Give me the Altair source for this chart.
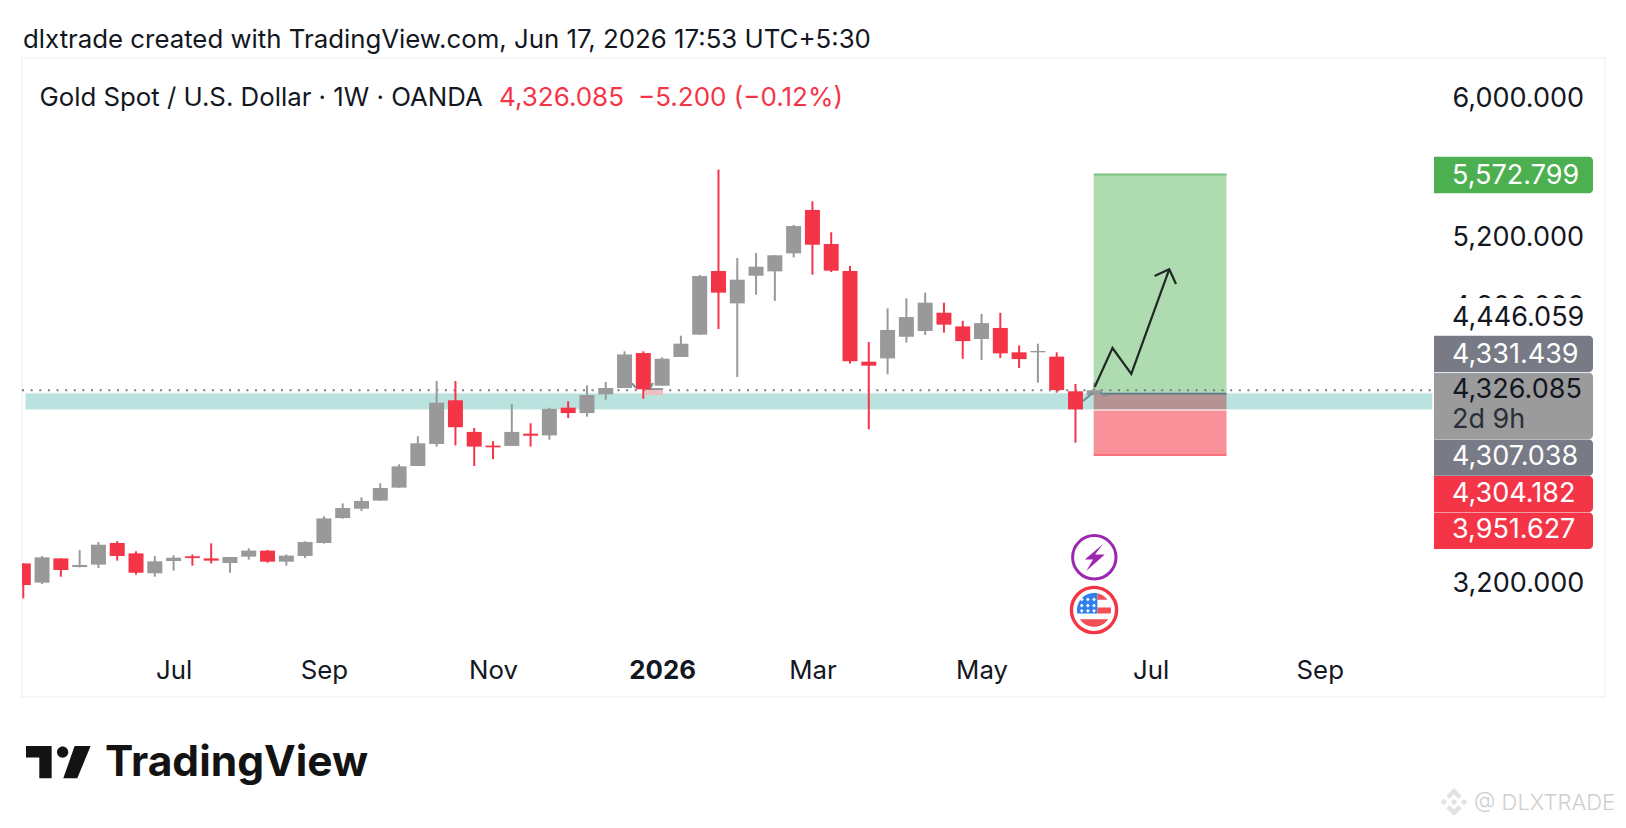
import altair as alt
import pandas as pd

# ---- weekly candles (price units) ----
opens = [3325,3214,3354,3304,3318,3443,3383,3268,3339,3366,3354,3327,3364,3399,3335,3368,3443,3587,3641,3688,3763,3888,
         4015,4268,4085,4006,4004,4075,4065,4225,4194,4302,4339,4541,4352,4518,4647,5015,4828,4988,5013,5117,5368,5171,
         5015,4491,4510,4635,4668,4774,4695,4622,4686,4545,4545,4520,4320,4298]
highs = [3325,3368,3354,3402,3449,3454,3395,3368,3372,3377,3441,3362,3412,3402,3377,3453,3597,3672,3707,3788,3898,4060,
         4379,4379,4108,4031,4246,4135,4225,4262,4354,4374,4551,4551,4516,4641,4992,5601,5090,5119,5106,5281,5418,5239,
         5044,4605,4799,4857,4890,4832,4728,4767,4774,4585,4595,4545,4362,4372]
lows = [3123,3206,3248,3302,3298,3341,3260,3248,3283,3312,3325,3271,3347,3329,3312,3356,3439,3584,3628,3688,3763,3888,
        4000,4007,3888,3928,4004,4000,4040,4165,4173,4271,4339,4277,4352,4518,4647,4680,4402,4878,4842,5094,4994,5009,
        4480,4100,4418,4601,4645,4659,4508,4501,4512,4454,4370,4312,4023,4298]
closes = [3200,3360,3287,3316,3433,3368,3271,3337,3358,3356,3341,3362,3399,3335,3370,3449,3585,3645,3686,3761,3886,4019,
          4254,4112,4000,3996,4085,4063,4218,4194,4298,4339,4533,4331,4508,4595,4986,4890,4965,5040,5106,5275,5167,5017,
          4493,4468,4674,4749,4832,4705,4610,4714,4539,4506,4553,4327,4215,4326]

first_week = "2025-05-12"
last_price = 4326.085
target_price = 5572.799
entry_price = 4307.038
stop_price = 3951.627
zone_top, zone_bottom = 4312, 4212
y_tick_values = [6000, 5200, 4800, 3200]
x_tick_dates = ["2025-07-07", "2025-09-01", "2025-11-03", "2026-01-05", "2026-03-02", "2026-05-04", "2026-07-06", "2026-09-07"]

# hand-drawn zig-zag (bar index, price)
zig_idx = [57.03, 57.97, 58.97, 60.99]
zig_price = [4346, 4570, 4420, 5025]
head_idx = [60.21, 60.99, 61.35]
head_price = [4986, 5025, 4940]
# faint projection marks near the candles
ghost_groups = [
    ([32.4, 32.6], [4366, 4339]),
    ([33.5, 33.4], [4368, 4342]),
    ([56.41, 56.93], [4264, 4312]),
    ([57.3, 57.66], [4312, 4293]),
]

# ---- helpers ----
T0 = pd.Timestamp(first_week, tz="UTC")
def iso(i):
    return (T0 + pd.Timedelta(days=7 * float(i))).strftime("%Y-%m-%dT%H:%M:%SZ")

PX = 22; PY = 58; W = 1411; H = 639
xs = alt.Scale(type="utc", domain=[int((T0 + pd.Timedelta(days=-0.48)).timestamp() * 1000),
                                   int((T0 + pd.Timedelta(days=525.2)).timestamp() * 1000)], nice=False, padding=0)
ys = alt.Scale(domain=[2552.8, 6246.3], nice=False, zero=False, padding=0)
FONT = "Inter"
INK = "#131722"; RED = "#F43548"; GREY = "#999999"; SLATE = "#787B86"; GREEN = "#4CAF50"
AXIS_FS = 27

tick_ms = [int(pd.Timestamp(d, tz="UTC").timestamp() * 1000) for d in x_tick_dates]
x_axis = alt.Axis(values=tick_ms, orient="bottom", offset=-27, ticks=False, domain=False, grid=False, title=None,
                  labelPadding=0, labelBaseline="middle", labelFont=FONT, labelFontSize=25.8, labelColor=INK,
                  labelExpr="utcmonth(datum.value)==0 ? '2026' : utcFormat(datum.value,'%b')",
                  labelFontWeight={"condition": {"test": "utcmonth(datum.value)==0", "value": 700}, "value": 400},
                  labelOverlap=False)
y_axis = alt.Axis(values=y_tick_values, orient="right", ticks=False, domain=False, grid=False, title=None,
                  format=",.3f", labelPadding=19, labelOffset=-2, labelFont=FONT, labelFontSize=AXIS_FS, labelColor=INK,
                  labelBaseline="middle", labelOverlap=False)

one = pd.DataFrame({"k": [0]})
def X(f="x:T", **kw): return alt.X(f, scale=xs, axis=x_axis, title=None, **kw)
def Y(f="y:Q", **kw): return alt.Y(f, scale=ys, axis=y_axis, title=None, **kw)

def text(s, px, py, size=25.8, color=INK, weight=400, font=FONT):
    return alt.Chart(pd.DataFrame({"t": [s]})).mark_text(
        align="left", baseline="middle", fontSize=size, color=color, fontWeight=weight, font=font
    ).encode(text="t:N", x=alt.value(px - PX), y=alt.value(py - PY))

def box(x0, x1, y0, y1, fill, radius=0, **kw):
    return alt.Chart(one).mark_rect(fill=fill, cornerRadiusTopRight=radius, cornerRadiusBottomRight=radius, **kw).encode(
        x=alt.value(x0 - PX), x2=alt.value(x1 - PX), y=alt.value(y0 - PY), y2=alt.value(y1 - PY))

def glyph(path, px, py, half, **kw):
    return alt.Chart(one).mark_point(shape=path, size=(2 * half) ** 2, opacity=1, **kw).encode(
        x=alt.value(px - PX), y=alt.value(py - PY))

def circ(cx, cy, r):
    return f"M{cx-r} {cy}a{r} {r} 0 1 0 {2*r} 0a{r} {r} 0 1 0 {-2*r} 0Z"

def dia(cx, cy, r):
    return f"M{cx-r} {cy}L{cx} {cy-r}L{cx+r} {cy}L{cx} {cy+r}Z"

# ---- data frames ----
candles = pd.DataFrame({
    "x": [iso(i) for i in range(len(opens))],
    "open": opens, "high": highs, "low": lows, "close": closes})
candles["dir"] = ["up" if c >= o else "down" for o, c in zip(opens, closes)]
candle_color = alt.Color("dir:N", scale=alt.Scale(domain=["up", "down"], range=[GREY, RED]), legend=None)

frame = alt.Chart(one).mark_rect(fill="white", fillOpacity=0, stroke="#F0F3FA", strokeWidth=1.5).encode(
    x=alt.value(0), x2=alt.value(1605 - PX), y=alt.value(0), y2=alt.value(H))

pos_x0, pos_x1 = iso(56.97), iso(64.04)
pos = pd.DataFrame({"x": [pos_x0], "x2": [pos_x1], "y": [target_price], "y2": [entry_price]})
neg = pd.DataFrame({"x": [pos_x0], "x2": [pos_x1], "y": [entry_price], "y2": [stop_price]})
green_box = alt.Chart(pos).mark_rect(fill=GREEN, fillOpacity=0.45).encode(X(), alt.X2("x2:T"), Y(), alt.Y2("y2:Q"))
red_box = alt.Chart(neg).mark_rect(fill="#F23645", fillOpacity=0.55).encode(X(), alt.X2("x2:T"), Y(), alt.Y2("y2:Q"))
green_top = alt.Chart(pos).mark_rule(color="#7CC47F", strokeWidth=2).encode(X(), alt.X2("x2:T"), y=Y("y:Q"))
red_bot = alt.Chart(neg).mark_rule(color="#F8707C", strokeWidth=2).encode(X(), alt.X2("x2:T"), y=Y("y2:Q"))
entry_rule = alt.Chart(pos).mark_rule(color="#567F80", strokeWidth=2).encode(X(), alt.X2("x2:T"), y=Y("y2:Q"))

zone = pd.DataFrame({"x": [iso(0.09)], "x2": [iso(75.02)], "y": [zone_top], "y2": [zone_bottom]})
band = alt.Chart(zone).mark_rect(fill="#009688", fillOpacity=0.27, stroke="white", strokeOpacity=0.75, strokeWidth=1.5).encode(
    X(), alt.X2("x2:T"), Y(), alt.Y2("y2:Q"))

dotted = alt.Chart(pd.DataFrame({"y": [last_price]})).mark_rule(color=SLATE, strokeWidth=2, strokeDash=[2, 6.63]).encode(
    x=alt.value(0), x2=alt.value(W), y=Y("y:Q"))

ghost_box = pd.DataFrame({"x": [iso(33.1)], "x2": [iso(34.05)], "y": [4333], "y2": [4298]})
gb = alt.Chart(ghost_box).mark_rect(fill="#EDBFC0").encode(X(), alt.X2("x2:T"), Y(), alt.Y2("y2:Q"))
gb_top = alt.Chart(ghost_box).mark_rule(color=SLATE, strokeWidth=1.5).encode(X(), alt.X2("x2:T"), y=Y("y:Q"))

wicks = alt.Chart(candles).mark_rule(strokeWidth=2, clip=True).encode(
    X(), Y("low:Q"), y2=alt.Y2("high:Q"), color=candle_color)
bodies = alt.Chart(candles).mark_bar(size=15, clip=True).encode(X(), Y("open:Q"), alt.Y2("close:Q"), color=candle_color)

ghost_rows = []
for g, (ii, pp) in enumerate(ghost_groups):
    for o, (i, p) in enumerate(zip(ii, pp)):
        ghost_rows.append({"g": g, "o": o, "x": iso(i), "y": p})
ghost_lines = alt.Chart(pd.DataFrame(ghost_rows)).mark_line(color="#6F8C92", strokeWidth=2).encode(
    X(), Y(), detail="g:N", order="o:Q")

zig = pd.DataFrame({"x": [iso(i) for i in zig_idx], "y": zig_price, "o": range(len(zig_idx))})
head = pd.DataFrame({"x": [iso(i) for i in head_idx], "y": head_price, "o": range(len(head_idx))})
zig_line = alt.Chart(zig).mark_line(color="#1F2A24", strokeWidth=2.2).encode(X(), Y(), order="o:Q")
head_line = alt.Chart(head).mark_line(color="#1F2A24", strokeWidth=2.2).encode(X(), Y(), order="o:Q")

# event icons
BOLT = "M.34 -.52L-.38 .09L-.05 .09L-.32 .55L.42 -.11L.03 -.11Z"
bolt_ring = glyph(circ(0, 0, 1), 1094.3, 557.3, 21.7, filled=False, stroke="#9C27B0", strokeWidth=3, fill="white")
bolt = glyph(BOLT, 1094.3, 557.3, 25, filled=True, color="#9C27B0", strokeWidth=0)
flag_ring = glyph(circ(0, 0, 1), 1094, 610, 22.6, filled=False, stroke="#F23645", strokeWidth=3.4, fill="white")
CANTON = "M-.98 .2A1 1 0 0 1 .2 -.98L.2 .2Z"
STRIPES = ("M.2 -.98A1 1 0 0 1 .8 -.6L.2 -.6Z"
           "M.2 -.15L.99 -.15A1 1 0 0 1 .98 .2L.2 .2Z"
           "M-.83 .55L.83 .55A1 1 0 0 1 -.83 .55Z")
STARS = "".join(dia(x, y, .11) for x in (-.72, -.36, 0) for y in (-.62, -.26, .05))
flag = alt.layer(
    glyph(CANTON, 1094, 610, 17, filled=True, color="#2F80ED", strokeWidth=0),
    glyph(STRIPES, 1094, 610, 17, filled=True, color="#EF4F55", strokeWidth=0),
    glyph(STARS, 1094, 610, 17, filled=True, color="white", strokeWidth=0),
)

# price labels
LX0, LX1, TX = 1434, 1593, 1452
def ptext(s, py, color=INK):
    return text(s, TX, py + 1, size=AXIS_FS, color=color)
labels = alt.layer(
    box(LX0, LX1, 156.7, 193.3, GREEN, 4),
    box(LX0, LX1, 298, 335, "white"),
    box(LX0, LX1, 335.7, 372, SLATE, 4),
    box(LX0, LX1, 372.7, 439, "#9B9B9B", 4),
    box(LX0, LX1, 439.5, 475.7, SLATE, 4),
    box(LX0, LX1, 476, 512, RED, 4),
    box(LX0, LX1, 512.5, 549, RED, 4),
    ptext("5,572.799", 174.5, "white"),
    ptext("4,446.059", 316.7),
    ptext("4,331.439", 353.5, "white"),
    ptext("4,326.085", 389.3),
    ptext("2d 9h", 419, "#2A2E39"),
    ptext("4,307.038", 456, "white"),
    ptext("4,304.182", 492.7, "white"),
    ptext("3,951.627", 529, "white"),
)

# headers & branding
header = alt.layer(
    text("dlxtrade created with TradingView.com, Jun 17, 2026 17:53 UTC+5:30", 23, 40),
    text("Gold Spot / U.S. Dollar · 1W · OANDA", 39.5, 98),
    text("4,326.085", 499, 98, size=26, color=RED),
    text("−5.200 (−0.12%)", 638, 98, size=26, color=RED),
)
u = 97.0
def ux(z): return round((z - 175) / u, 3)
def uy(z): return round((z - 366.5) / u, 3)
LOGO = (f"M-1 {uy(318)}L{ux(155)} {uy(318)}L{ux(155)} {uy(415)}L{ux(118)} {uy(415)}L{ux(118)} {uy(352)}L-1 {uy(352)}Z"
        + circ(ux(188), uy(336), 0.175)
        + f"M{ux(224)} {uy(318)}L1 {uy(318)}L{ux(232)} {uy(415)}L{ux(190)} {uy(415)}Z")
logo = glyph(LOGO, 58.3, 762.2, 32.3, filled=True, color="#131313", strokeWidth=0)
wordmark = text("TradingView", 105, 763, size=42.5, color="#131313", weight=700)

BNB = (dia(0, 0, .24) + dia(-.72, 0, .24) + dia(.72, 0, .24)
       + "M0 -1L.55 -.45L.32 -.22L0 -.54L-.32 -.22L-.55 -.45Z"
       + "M0 1L.55 .45L.32 .22L0 .54L-.32 .22L-.55 .45Z")
bnb = glyph(BNB, 1454, 802, 14, filled=True, color="#E2E2E2", strokeWidth=0)
wm = text("@ DLXTRADE", 1474, 803, size=22, color="#CFCFCF", weight=300)

chart = alt.layer(
    frame, green_box, red_box, green_top, red_bot, band, entry_rule, dotted,
    gb, gb_top, wicks, bodies, ghost_lines, zig_line, head_line,
    bolt_ring, bolt, flag_ring, flag, labels, header, logo, wordmark, bnb, wm,
).properties(
    width=W, height=H,
    padding={"left": PX - 8, "top": PY - 8, "right": 1610 - (PX - 8) - W, "bottom": 118},
    autosize=alt.AutoSizeParams(type="none"),
    background="white",
).configure_view(stroke=None)

chart.save("out.html", embed_options={"renderer": "svg", "actions": False})
